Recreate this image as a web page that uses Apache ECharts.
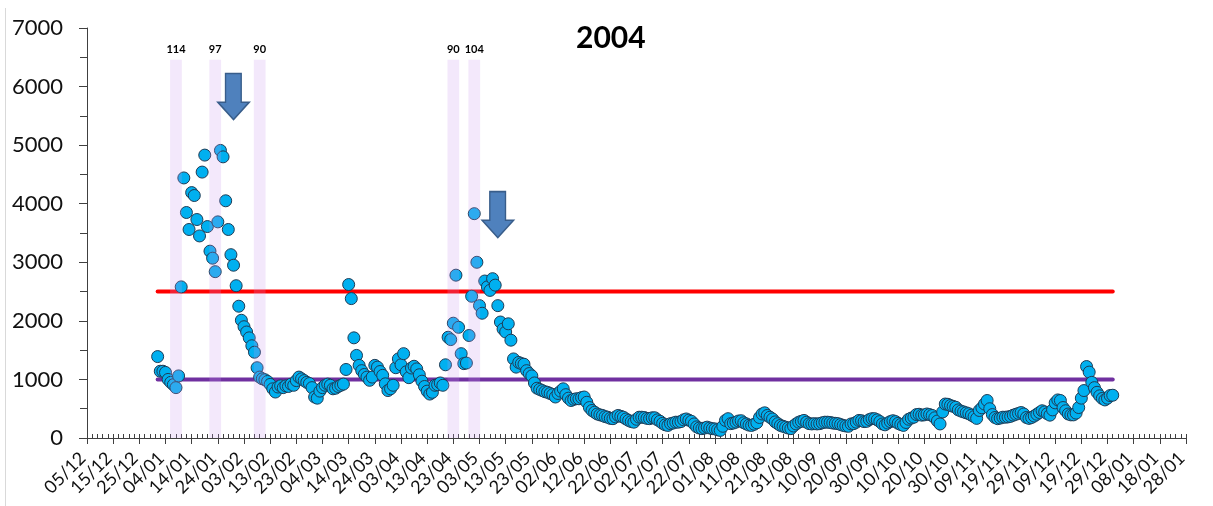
<!DOCTYPE html>
<html>
<head>
<meta charset="utf-8">
<script src="https://cdn.jsdelivr.net/npm/echarts@6/dist/echarts.min.js"></script>
<style>
  html, body { margin: 0; padding: 0; background: #fff; }
  #chart { width: 1213px; height: 506px; }
</style>
</head>
<body>
<div id="chart"></div>
<script>
// Axis span (dates) and tick step in days
const axisStart = '2003-12-05';
const axisEnd = '2005-01-28';
const tickStepDays = 10;
const yearLabel = '2004';

// Daily values for 2004, one array per month
const jan = [1390,1140,1140,1120,1000,950,910,860,1060,2580,4440,3850,3560,4190,4140,3730,3450,4540,4830,3610,3190,3070,2840,3690,4910,4800,4050,3560,3130,2950,2600];
const feb = [2250,2010,1900,1810,1710,1575,1465,1200,1040,1010,995,965,915,840,785,870,890,860,890,880,920,900,980,1040,1010,980,950,930,860];
const mar = [700,680,800,860,900,920,900,840,850,880,900,920,1170,2620,2380,1710,1410,1240,1150,1085,1040,985,1040,1240,1210,1135,1070,925,810,840,900];
const apr = [1200,1350,1250,1440,1130,1030,1195,1225,1180,1080,970,880,800,750,780,900,910,940,900,1250,1720,1680,1960,2780,1890,1440,1270,1280,1750,2420];
const may = [3830,3000,2260,2130,2680,2580,2520,2720,2610,2260,1980,1860,1810,1950,1670,1350,1210,1290,1270,1260,1150,1100,1060,940,850,830,810,790,780,760,740];
const jun = [700,760,800,840,740,680,640,660,670,670,690,700,610,520,470,440,410,395,385,365,355,335,330,360,385,370,355,325,300,280];
const jul = [270,320,355,355,350,335,330,345,345,310,285,250,225,215,245,255,270,270,280,310,325,305,285,240,190,170,160,170,185,170,160];
const aug = [155,140,130,200,300,330,245,255,270,290,295,260,240,220,215,235,260,350,410,430,385,355,325,275,245,215,200,185,170,160,205];
const sep = [240,270,285,300,270,245,240,245,240,245,260,270,270,265,255,250,245,230,215,205,200,240,245,270,300,295,280,285,315,330];
const oct = [330,310,280,240,225,255,280,295,280,250,230,215,265,320,340,355,400,405,390,395,410,400,385,345,290,240,445,580,575,555,540];
const nov = [525,480,460,445,430,415,390,365,335,470,515,580,640,500,400,350,330,340,355,355,360,370,390,405,420,435,410,350,335,350];
const dec = [375,405,435,465,445,415,390,480,600,650,640,520,465,410,395,395,425,520,680,810,1220,1125,950,860,780,720,675,650,680,725,730];

// Reference levels
const upperLevel = 2500;
const lowerLevel = 1000;

// Highlighted periods (centre date) and their counts
const bandCenters = ['2004-01-08', '2004-01-23', '2004-02-09', '2004-04-23', '2004-05-01'];
const bandLabels = ['114', '97', '90', '90', '104'];
const bandTop = 6460;

// Arrow markers (date, value at arrow centre)
const arrowDates = ['2004-01-30', '2004-05-10'];
const arrowValues = [5830, 3815];

const DAY = 86400000;
function parseUTC(s) {
  const p = s.split('-').map(Number);
  return Date.UTC(p[0], p[1] - 1, p[2]);
}
const t0 = parseUTC(axisStart);
function dayIndex(s) { return Math.round((parseUTC(s) - t0) / DAY); }
function pad(n) { return (n < 10 ? '0' : '') + n; }
function dayLabel(v) {
  const d = new Date(t0 + v * DAY);
  return pad(d.getUTCDate()) + '/' + pad(d.getUTCMonth() + 1);
}

const months = [jan, feb, mar, apr, may, jun, jul, aug, sep, oct, nov, dec];
const points = [];
months.forEach(function (vals, m) {
  vals.forEach(function (v, i) {
    const x = (Date.UTC(2004, m, i + 1) - t0) / DAY;
    points.push([x, v]);
  });
});
const firstDay = points[0][0];
const lastDay = points[points.length - 1][0];
const xMax = dayIndex(axisEnd);

const bandHalf = 2.24;
const bands = bandCenters.map(function (c) {
  const k = dayIndex(c);
  return [k - bandHalf, k + bandHalf, bandTop];
});
const arrows = arrowDates.map(function (d, i) { return [dayIndex(d), arrowValues[i]]; });

const FONT = 'Lato, "Open Sans", "DejaVu Sans", sans-serif';
const axisColor = '#404040';
const textColor = '#111';

const chart = echarts.init(document.getElementById('chart'), null, { renderer: 'canvas' });

const option = {
  animation: false,
  backgroundColor: '#fff',
  title: {
    text: yearLabel,
    left: 571,
    top: 18,
    textStyle: { fontFamily: FONT, fontSize: 30, fontWeight: 'bold', color: '#000' }
  },
  grid: { left: 87, right: 27, top: 28, bottom: 68, containLabel: false },
  xAxis: [
    {
      type: 'value', min: 0, max: xMax, interval: tickStepDays,
      position: 'bottom',
      axisLine: { show: true, lineStyle: { color: axisColor, width: 1 } },
      axisTick: { show: true, inside: false, length: 6, lineStyle: { color: axisColor } },
      minorTick: { show: false },
      splitLine: { show: false },
      axisLabel: {
        rotate: 45, margin: 13, fontFamily: FONT, fontSize: 18, color: textColor,
        padding: [0, 6, 0, 0],
        formatter: dayLabel, showMinLabel: true, showMaxLabel: true
      }
    },
    {
      type: 'value', min: 0, max: xMax, interval: tickStepDays,
      position: 'bottom',
      axisLine: { show: false },
      axisTick: { show: true, inside: true, length: 4, lineStyle: { color: axisColor } },
      minorTick: { show: true, splitNumber: 5, length: 4, lineStyle: { color: axisColor } },
      splitLine: { show: false },
      axisLabel: { show: false }
    }
  ],
  yAxis: [
    {
      type: 'value', min: 0, max: 7000, interval: 1000,
      axisLine: { show: true, lineStyle: { color: axisColor, width: 1 } },
      axisTick: { show: true, inside: false, length: 8, lineStyle: { color: axisColor } },
      splitLine: { show: false },
      axisLabel: {
        margin: 24, fontFamily: FONT, fontSize: 22, color: textColor,
        formatter: function (v) { return String(v); }
      }
    },
    {
      type: 'value', min: 0, max: 7000, interval: 1000,
      axisLine: { show: false },
      axisTick: { show: true, inside: true, length: 7, lineStyle: { color: axisColor } },
      minorTick: { show: true, splitNumber: 2, length: 7, lineStyle: { color: axisColor } },
      splitLine: { show: false },
      axisLabel: { show: false }
    }
  ],
  series: [
    {
      name: 'upper', type: 'line', z: 1, symbol: 'none', silent: true,
      data: [[firstDay, upperLevel], [lastDay, upperLevel]],
      lineStyle: { color: '#FF0000', width: 4, cap: 'round' }
    },
    {
      name: 'lower', type: 'line', z: 1, symbol: 'none', silent: true,
      data: [[firstDay, lowerLevel], [lastDay, lowerLevel]],
      lineStyle: { color: '#7030A0', width: 4, cap: 'round' }
    },
    {
      name: 'daily', type: 'scatter', z: 2,
      data: points,
      symbol: 'circle', symbolSize: 12,
      itemStyle: { color: '#00B0F0', borderColor: '#1E3B55', borderWidth: 1, opacity: 1 }
    },
    {
      name: 'bands', type: 'custom', z: 5, silent: true,
      data: bands,
      encode: { x: [0, 1], y: 2 },
      renderItem: function (params, api) {
        const a = api.coord([api.value(0), 0]);
        const b = api.coord([api.value(1), api.value(2)]);
        return {
          type: 'group',
          children: [
            {
              type: 'rect',
              shape: { x: a[0], y: b[1], width: b[0] - a[0], height: a[1] - b[1] },
              style: { fill: 'rgba(200,150,235,0.22)' }
            },
            {
              type: 'text',
              x: (a[0] + b[0]) / 2, y: b[1] - 5,
              style: {
                text: bandLabels[params.dataIndex],
                align: 'center', verticalAlign: 'bottom',
                font: 'bold 11px ' + FONT, fill: '#000'
              }
            }
          ]
        };
      }
    },
    {
      name: 'arrows', type: 'scatter', z: 8, silent: true,
      data: arrows,
      symbol: 'path://M9.3,0 L28.3,0 L28.3,28.7 L38,28.7 L19,46 L0,28.7 L9.3,28.7 Z',
      symbolSize: [38, 46], symbolKeepAspect: true,
      itemStyle: { color: '#4F81BD', borderColor: '#385D8A', borderWidth: 1.5, opacity: 1 }
    }
  ],
  graphic: [
    {
      type: 'line', silent: true,
      shape: { x1: 5.5, y1: 8, x2: 5.5, y2: 506 },
      style: { stroke: '#d9d9d9', lineWidth: 1 }
    }
  ]
};

chart.setOption(option);
</script>
</body>
</html>
